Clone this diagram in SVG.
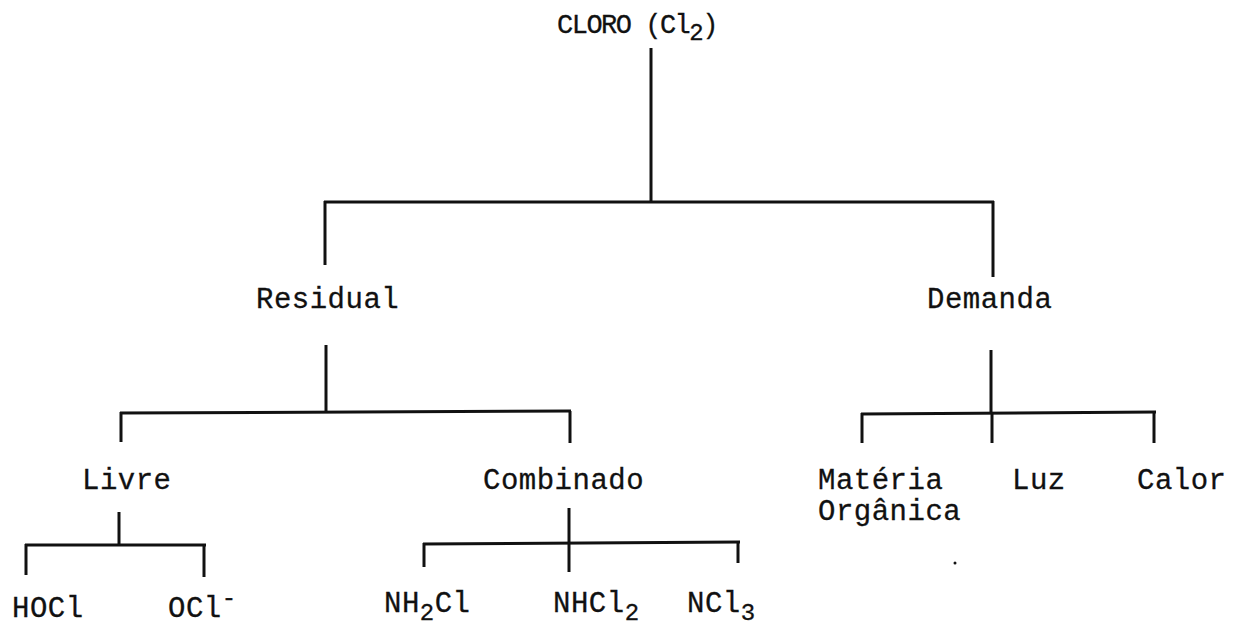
<svg xmlns="http://www.w3.org/2000/svg" width="1238" height="629" viewBox="0 0 1238 629">
<style>
text{font-family:"Liberation Mono","Courier New",monospace;font-size:29px;letter-spacing:0.5px;fill:#111;stroke:#111;stroke-width:0.3}
.c line{stroke:#111;stroke-width:3;stroke-linecap:butt}
.sub{font-size:24px}
.t{font-size:27px;letter-spacing:-1.5px}
</style>
<rect width="1238" height="629" fill="#fff"/>
<g class="c" id="connectors">
<line x1="651" y1="48" x2="651" y2="203"/>
<line x1="324" y1="202" x2="994" y2="202"/>
<line x1="325" y1="201" x2="325" y2="265"/>
<line x1="993" y1="201" x2="993" y2="277"/>
<line x1="326" y1="345" x2="326" y2="413"/>
<line x1="120" y1="413" x2="571" y2="411"/>
<line x1="121" y1="412" x2="121" y2="442"/>
<line x1="570" y1="411" x2="570" y2="443"/>
<line x1="119" y1="512" x2="119" y2="546"/>
<line x1="25" y1="545" x2="206" y2="545"/>
<line x1="26" y1="544" x2="26" y2="575"/>
<line x1="204" y1="544" x2="204" y2="577"/>
<line x1="569" y1="508" x2="569" y2="572"/>
<line x1="423" y1="544" x2="740" y2="542"/>
<line x1="424" y1="543" x2="424" y2="567"/>
<line x1="738" y1="542" x2="738" y2="563"/>
<line x1="991" y1="350" x2="991" y2="413"/>
<line x1="861" y1="414" x2="1156" y2="412"/>
<line x1="862" y1="413" x2="862" y2="443"/>
<line x1="992" y1="412" x2="992" y2="443"/>
<line x1="1154" y1="412" x2="1154" y2="443"/>
</g>
<g id="cloro"><text class="t" x="557" y="33">CLORO (Cl<tspan class="sub" dy="7">2</tspan><tspan dy="-7">)</tspan></text></g>
<g id="residual"><text x="256" y="308">Residual</text></g>
<g id="demanda"><text x="927" y="308">Demanda</text></g>
<g id="livre"><text x="82" y="489">Livre</text></g>
<g id="combinado"><text x="483" y="489">Combinado</text></g>
<g id="hocl"><text x="12" y="617">HOCl</text></g>
<g id="ocl"><text x="168" y="617">OCl<tspan class="sub" dy="-12">-</tspan></text></g>
<g id="nh2cl"><text x="384" y="612">NH<tspan class="sub" dy="8">2</tspan><tspan dy="-8">Cl</tspan></text></g>
<g id="nhcl2"><text x="553" y="612">NHCl<tspan class="sub" dy="8">2</tspan></text></g>
<g id="ncl3"><text x="687" y="612">NCl<tspan class="sub" dy="8">3</tspan></text></g>
<g id="materia"><text x="818" y="489">Matéria</text><text x="818" y="520">Orgânica</text><circle cx="955" cy="563" r="1.5" fill="#111"/></g>
<g id="luz"><text x="1012" y="489">Luz</text></g>
<g id="calor"><text x="1137" y="489">Calor</text></g>
</svg>
